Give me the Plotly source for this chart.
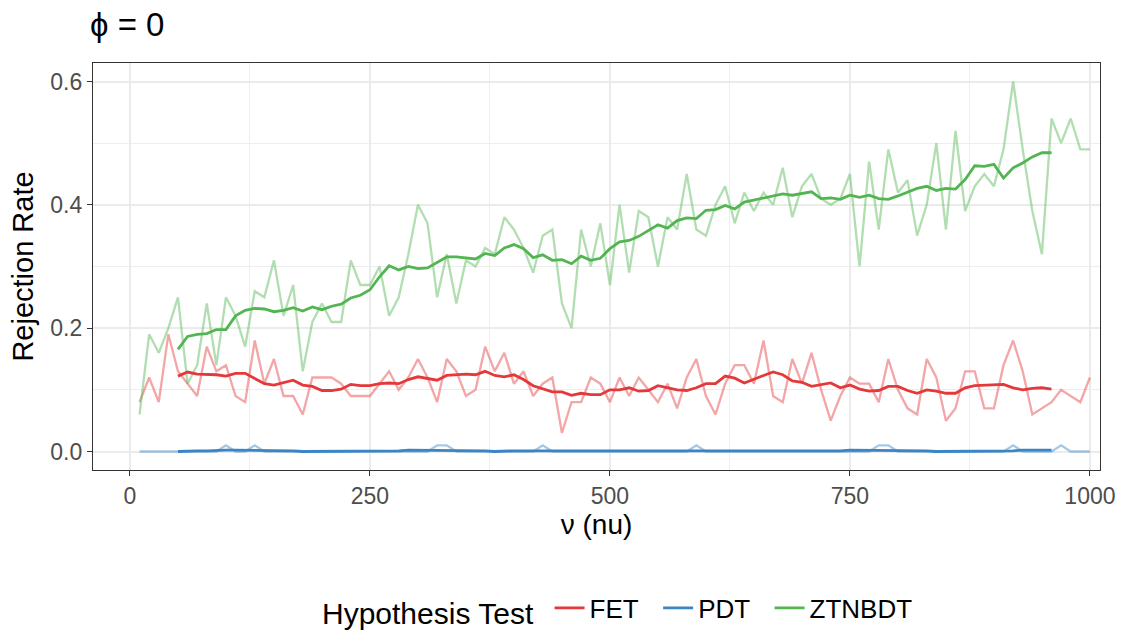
import plotly.graph_objects as go
import pandas as pd

nu = list(range(10, 1010, 10))

fet = [0.08, 0.12, 0.08, 0.19, 0.13, 0.11, 0.09, 0.17, 0.13, 0.14,
       0.09, 0.08, 0.18, 0.11, 0.15, 0.09, 0.09, 0.06, 0.12, 0.12,
       0.12, 0.11, 0.09, 0.09, 0.09, 0.11, 0.13, 0.10, 0.12, 0.15,
       0.12, 0.08, 0.15, 0.13, 0.09, 0.10, 0.17, 0.13, 0.16, 0.11,
       0.13, 0.09, 0.11, 0.12, 0.03, 0.08, 0.08, 0.12, 0.11, 0.08,
       0.12, 0.09, 0.12, 0.10, 0.08, 0.11, 0.07, 0.12, 0.15, 0.09,
       0.06, 0.11, 0.14, 0.14, 0.11, 0.18, 0.09, 0.08, 0.15, 0.11,
       0.16, 0.10, 0.05, 0.09, 0.12, 0.11, 0.11, 0.08, 0.15, 0.10,
       0.07, 0.06, 0.15, 0.12, 0.05, 0.07, 0.13, 0.13, 0.07, 0.07,
       0.14, 0.18, 0.13, 0.06, 0.07, 0.08, 0.10, 0.09, 0.08, 0.12]

pdt = [0.00, 0.00, 0.00, 0.00, 0.00, 0.00, 0.00, 0.00, 0.00, 0.01,
       0.00, 0.00, 0.01, 0.00, 0.00, 0.00, 0.00, 0.00, 0.00, 0.00,
       0.00, 0.00, 0.00, 0.00, 0.00, 0.00, 0.00, 0.00, 0.00, 0.00,
       0.00, 0.01, 0.01, 0.00, 0.00, 0.00, 0.00, 0.00, 0.00, 0.00,
       0.00, 0.00, 0.01, 0.00, 0.00, 0.00, 0.00, 0.00, 0.00, 0.00,
       0.00, 0.00, 0.00, 0.00, 0.00, 0.00, 0.00, 0.00, 0.01, 0.00,
       0.00, 0.00, 0.00, 0.00, 0.00, 0.00, 0.00, 0.00, 0.00, 0.00,
       0.00, 0.00, 0.00, 0.00, 0.00, 0.00, 0.00, 0.01, 0.01, 0.00,
       0.00, 0.00, 0.00, 0.00, 0.00, 0.00, 0.00, 0.00, 0.00, 0.00,
       0.00, 0.01, 0.00, 0.00, 0.00, 0.00, 0.01, 0.00, 0.00, 0.00]

ztnbdt = [0.06, 0.19, 0.16, 0.20, 0.25, 0.11, 0.14, 0.24, 0.14, 0.25,
          0.22, 0.17, 0.26, 0.25, 0.31, 0.22, 0.27, 0.13, 0.21, 0.24,
          0.21, 0.21, 0.31, 0.27, 0.27, 0.30, 0.22, 0.25, 0.32, 0.40,
          0.37, 0.25, 0.32, 0.24, 0.31, 0.30, 0.33, 0.32, 0.38, 0.36,
          0.33, 0.29, 0.35, 0.36, 0.24, 0.20, 0.36, 0.30, 0.37, 0.27,
          0.40, 0.29, 0.39, 0.38, 0.30, 0.38, 0.36, 0.45, 0.36, 0.35,
          0.40, 0.43, 0.37, 0.42, 0.39, 0.42, 0.40, 0.46, 0.38, 0.43,
          0.45, 0.41, 0.40, 0.41, 0.45, 0.30, 0.47, 0.36, 0.49, 0.42,
          0.44, 0.35, 0.40, 0.50, 0.36, 0.52, 0.39, 0.43, 0.45, 0.43,
          0.49, 0.60, 0.49, 0.39, 0.32, 0.54, 0.50, 0.54, 0.49, 0.49]

series_names = ["FET", "PDT", "ZTNBDT"]
series_values = [fet, pdt, ztnbdt]
colors = ["#E4383B", "#3A85C6", "#52B552"]
faded = ["rgba(228,56,59,0.45)", "rgba(58,133,198,0.45)", "rgba(82,181,82,0.45)"]

x_ticks = [0, 250, 500, 750, 1000]
y_ticks = [0.0, 0.2, 0.4, 0.6]
y_tick_text = ["0.0", "0.2", "0.4", "0.6"]

fig = go.Figure()

for name, vals, col in zip(series_names, series_values, faded):
    fig.add_trace(go.Scatter(x=nu, y=vals, mode="lines", line=dict(color=col, width=2.3),
                             legendgroup=name, showlegend=False, hoverinfo="skip"))

NB = "\u00a0"
for i, (name, vals, col) in enumerate(zip(series_names, series_values, colors)):
    smooth = pd.Series(vals).rolling(9, center=True).mean()
    label = name if i == len(series_names) - 1 else name + NB * 2
    fig.add_trace(go.Scatter(x=nu, y=smooth, mode="lines", name=label,
                             line=dict(color=col, width=2.8), legendgroup=name))

FONT = "Liberation Sans, Arial, sans-serif"

axis_common = dict(
    showgrid=True, gridcolor="#EBEBEB", gridwidth=1.6,
    showline=True, linecolor="#333333", linewidth=1.3, mirror=True,
    ticks="outside", ticklen=5, tickwidth=1.3, tickcolor="#333333",
    tickfont=dict(family=FONT, size=23, color="#4D4D4D"),
    zeroline=False,
)

fig.update_layout(
    width=1132, height=631,
    paper_bgcolor="white", plot_bgcolor="white",
    margin=dict(l=93, r=32, t=63, b=161),
    font=dict(family=FONT, color="black"),
    title=dict(text="ϕ = 0", x=90 / 1132, xanchor="left", xref="container",
               y=1 - 24 / 631, yanchor="middle", yref="container",
               font=dict(size=33, color="black")),
    xaxis=dict(range=[-38.5, 1010.5], tickvals=x_ticks,
               title=dict(text="ν (nu)", font=dict(size=28), standoff=6),
               minor=dict(dtick=125, tick0=125, showgrid=True, gridcolor="#EEEEEE",
                          gridwidth=0.9, ticks=""),
               **axis_common),
    yaxis=dict(range=[-0.03, 0.63], tickvals=y_ticks, ticktext=y_tick_text,
               title=dict(text="Rejection Rate", font=dict(size=29), standoff=8),
               minor=dict(dtick=0.1, tick0=0.1, showgrid=True, gridcolor="#EEEEEE",
                          gridwidth=0.9, ticks=""),
               **axis_common),
    legend=dict(orientation="h", x=619 / 1132, xanchor="center", xref="container",
                y=1 - 609 / 631, yanchor="middle", yref="container",
                title=dict(text="Hypothesis Test ", side="left", font=dict(size=30)),
                font=dict(size=26), itemwidth=30,
                bgcolor="rgba(0,0,0,0)"),
)

fig.write_html("out.html")
